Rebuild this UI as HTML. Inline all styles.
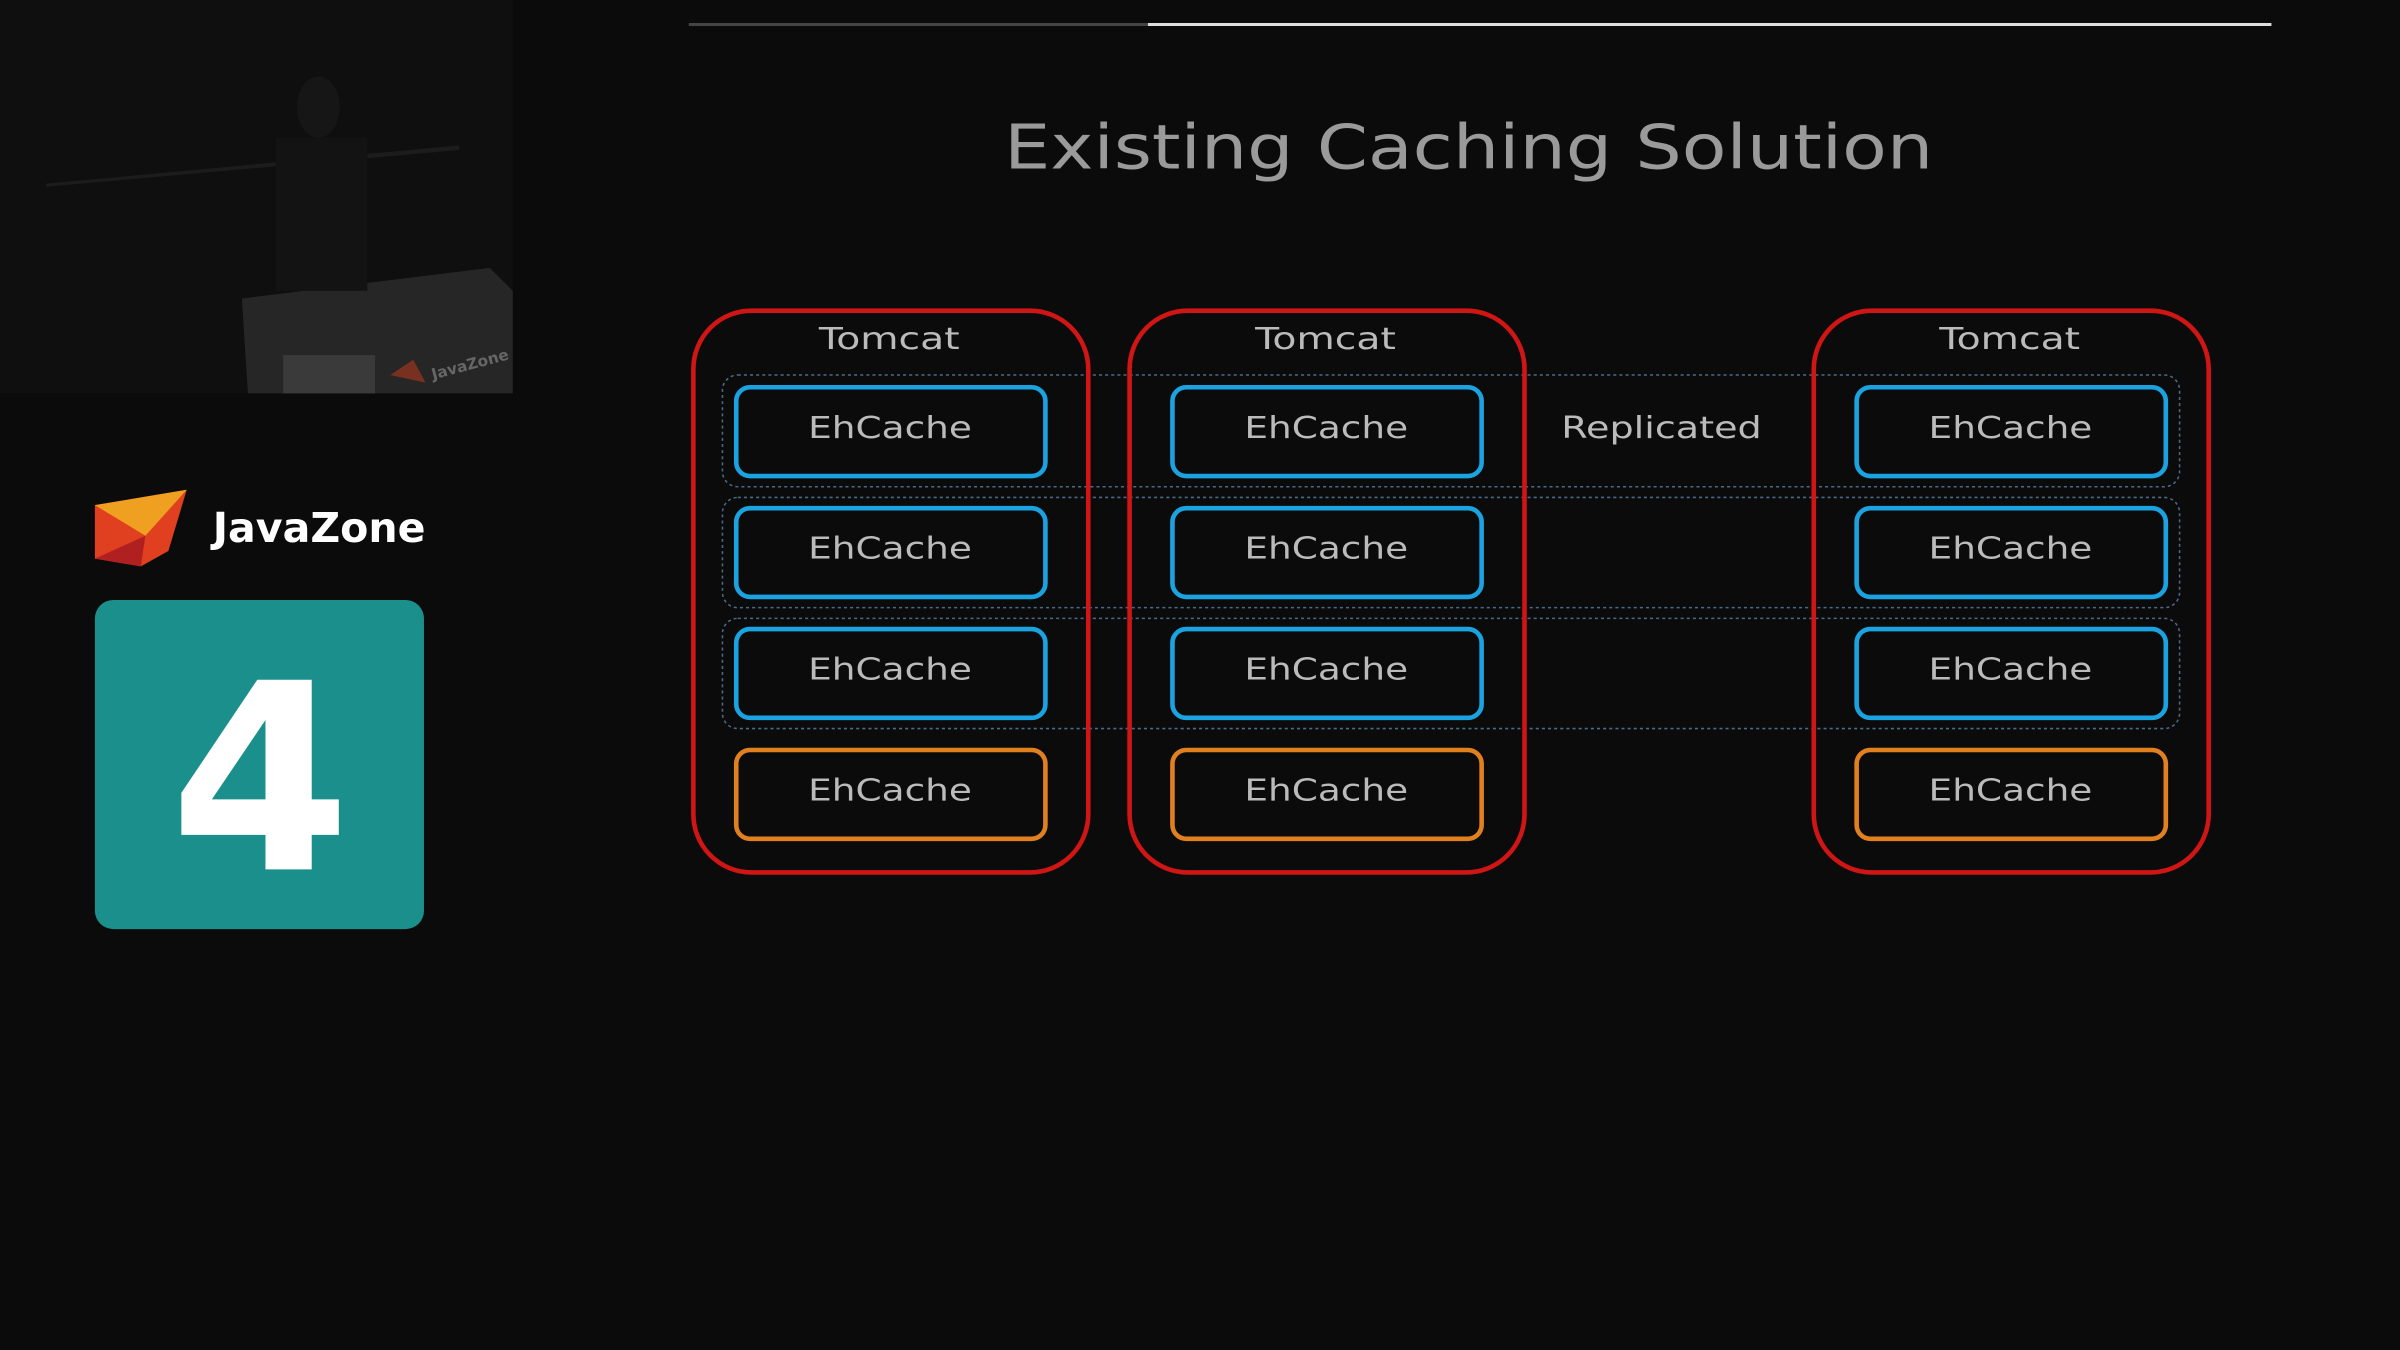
<!DOCTYPE html>
<html><head><meta charset="utf-8"><style>
html,body{margin:0;padding:0;background:#0b0b0b;width:2400px;height:1350px;overflow:hidden}
svg{display:block}
text{font-family:"DejaVu Sans","Liberation Sans",sans-serif}
</style></head><body>
<svg width="2400" height="1350" viewBox="0 0 1568 882" xmlns="http://www.w3.org/2000/svg">
<rect width="1568" height="882" fill="#0b0b0b"/>
<!-- video thumbnail -->
<rect x="0" y="0" width="335" height="257" fill="#0f0f0f"/>
<path d="M30 120 L300 95 L300 98 L30 122 Z" fill="#1c1c1c"/>
<path d="M158 195 L320 175 L335 190 L335 257 L162 257 Z" fill="#262626"/>
<rect x="185" y="232" width="60" height="25" fill="#3a3a3a"/>
<path d="M255 245 L270 235 L278 250 Z" fill="#7a3020"/>
<text x="283" y="248" font-size="10" fill="#666" font-weight="bold" transform="rotate(-15 283 248)">JavaZone</text>
<ellipse cx="208" cy="70" rx="14" ry="20" fill="#161616"/>
<rect x="180" y="90" width="60" height="100" fill="#131313"/>
<!-- top line -->
<line x1="450" y1="16" x2="750" y2="16" stroke="#444" stroke-width="2"/>
<line x1="750" y1="16" x2="1484" y2="16" stroke="#ddd" stroke-width="2"/>
<!-- title -->
<text x="656" y="110" font-size="40" fill="#9a9a9a" textLength="607" lengthAdjust="spacingAndGlyphs">Existing Caching Solution</text>
<!-- JavaZone logo -->
<path d="M62 330 L122 320 L110 360 L92 370 L62 365 Z" fill="#e04020"/>
<path d="M62 330 L122 320 L95 350 Z" fill="#f0a020"/>
<path d="M62 365 L95 350 L92 370 Z" fill="#b02020"/>
<text x="139" y="354" font-size="27" fill="#fff" font-weight="bold" textLength="139" lengthAdjust="spacingAndGlyphs">JavaZone</text>
<rect x="62" y="392" width="215" height="215" rx="12" fill="#1a8f8c"/>
<text x="170" y="568" font-size="170" fill="#fff" font-weight="bold" text-anchor="middle">4</text>
<!-- dotted rows -->
<g fill="none" stroke="#4a6a8a" stroke-width="1" stroke-dasharray="2,2">
<rect x="472" y="245" width="952" height="73" rx="10"/>
<rect x="472" y="325" width="952" height="72" rx="10"/>
<rect x="472" y="404" width="952" height="72" rx="10"/>
</g>
<!-- tomcat containers -->
<g fill="none" stroke="#d01515" stroke-width="3">
<rect x="453" y="203" width="258" height="367" rx="38"/>
<rect x="738" y="203" width="258" height="367" rx="38"/>
<rect x="1185" y="203" width="258" height="367" rx="38"/>
</g>
<g font-size="20" fill="#bbb">
<text x="535" y="228" textLength="92" lengthAdjust="spacingAndGlyphs">Tomcat</text>
<text x="820" y="228" textLength="92" lengthAdjust="spacingAndGlyphs">Tomcat</text>
<text x="1267" y="228" textLength="92" lengthAdjust="spacingAndGlyphs">Tomcat</text>
<text x="1020" y="286" textLength="131" lengthAdjust="spacingAndGlyphs">Replicated</text>
</g>
<!-- ehcache boxes -->
<g fill="none" stroke-width="3">
<g stroke="#1aa3e0">
<rect x="481" y="253" width="202" height="58" rx="9"/>
<rect x="481" y="332" width="202" height="58" rx="9"/>
<rect x="481" y="411" width="202" height="58" rx="9"/>
<rect x="766" y="253" width="202" height="58" rx="9"/>
<rect x="766" y="332" width="202" height="58" rx="9"/>
<rect x="766" y="411" width="202" height="58" rx="9"/>
<rect x="1213" y="253" width="202" height="58" rx="9"/>
<rect x="1213" y="332" width="202" height="58" rx="9"/>
<rect x="1213" y="411" width="202" height="58" rx="9"/>
</g>
<g stroke="#e0801e">
<rect x="481" y="490" width="202" height="58" rx="9"/>
<rect x="766" y="490" width="202" height="58" rx="9"/>
<rect x="1213" y="490" width="202" height="58" rx="9"/>
</g>
</g>
<g font-size="20" fill="#bbb">
<text x="528" y="286" textLength="107" lengthAdjust="spacingAndGlyphs">EhCache</text><text x="813" y="286" textLength="107" lengthAdjust="spacingAndGlyphs">EhCache</text><text x="1260" y="286" textLength="107" lengthAdjust="spacingAndGlyphs">EhCache</text>
<text x="528" y="365" textLength="107" lengthAdjust="spacingAndGlyphs">EhCache</text><text x="813" y="365" textLength="107" lengthAdjust="spacingAndGlyphs">EhCache</text><text x="1260" y="365" textLength="107" lengthAdjust="spacingAndGlyphs">EhCache</text>
<text x="528" y="444" textLength="107" lengthAdjust="spacingAndGlyphs">EhCache</text><text x="813" y="444" textLength="107" lengthAdjust="spacingAndGlyphs">EhCache</text><text x="1260" y="444" textLength="107" lengthAdjust="spacingAndGlyphs">EhCache</text>
<text x="528" y="523" textLength="107" lengthAdjust="spacingAndGlyphs">EhCache</text><text x="813" y="523" textLength="107" lengthAdjust="spacingAndGlyphs">EhCache</text><text x="1260" y="523" textLength="107" lengthAdjust="spacingAndGlyphs">EhCache</text>
</g>
</svg>
</body></html>
